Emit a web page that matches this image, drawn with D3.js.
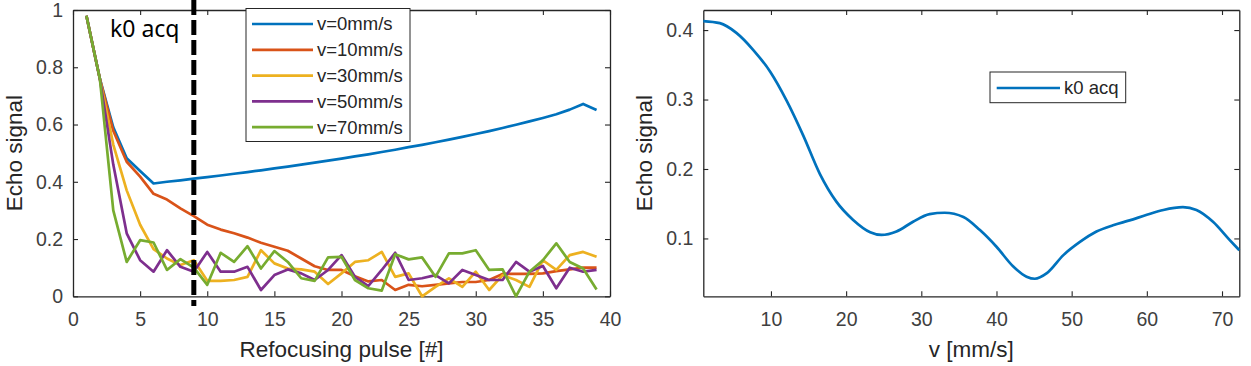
<!DOCTYPE html>
<html>
<head>
<meta charset="utf-8">
<script src="https://cdn.jsdelivr.net/npm/d3@7"></script>
<style>
  body { margin: 0; background: #fff; }
  svg { display: block; }
  .tick text { font-family: 'Liberation Sans', Arial, sans-serif; fill: #404040; }
</style>
</head>
<body>
<div id="chart"></div>
<script>
// left panel: echo signal per refocusing pulse
const pulses = d3.range(1, 40);
const seriesNames = ['v=0mm/s', 'v=10mm/s', 'v=30mm/s', 'v=50mm/s', 'v=70mm/s'];
const seriesColors = ['#0072BD', '#D95319', '#EDB120', '#7E2F8E', '#77AC30'];
const sigV0 = [0.98, 0.76, 0.59, 0.482, 0.438, 0.394, 0.4, 0.405, 0.411, 0.416, 0.422, 0.428, 0.434, 0.44,
  0.447, 0.453, 0.46, 0.467, 0.474, 0.481, 0.489, 0.496, 0.504, 0.512, 0.521, 0.529, 0.538, 0.547, 0.557,
  0.567, 0.577, 0.588, 0.599, 0.611, 0.623, 0.636, 0.652, 0.672, 0.651];
const sigV10 = [0.98, 0.76, 0.578, 0.47, 0.418, 0.358, 0.338, 0.307, 0.28, 0.25, 0.233, 0.22, 0.205, 0.187,
  0.173, 0.159, 0.132, 0.105, 0.092, 0.092, 0.07, 0.052, 0.057, 0.022, 0.04, 0.035, 0.04, 0.045, 0.05,
  0.05, 0.057, 0.078, 0.078, 0.078, 0.08, 0.088, 0.094, 0.1, 0.1];
const sigV30 = [0.98, 0.76, 0.53, 0.37, 0.25, 0.165, 0.132, 0.109, 0.126, 0.054, 0.054, 0.057, 0.068, 0.161,
  0.115, 0.097, 0.094, 0.086, 0.043, 0.08, 0.12, 0.126, 0.155, 0.068, 0.08, 0.0, 0.033, 0.063, 0.033,
  0.086, 0.022, 0.074, 0.057, 0.033, 0.126, 0.092, 0.144, 0.155, 0.138];
const sigV50 = [0.98, 0.76, 0.46, 0.22, 0.126, 0.086, 0.161, 0.103, 0.086, 0.155, 0.086, 0.086, 0.103, 0.022,
  0.074, 0.094, 0.08, 0.057, 0.092, 0.144, 0.068, 0.036, 0.092, 0.152, 0.057, 0.063, 0.074, 0.045, 0.092,
  0.074, 0.057, 0.057, 0.12, 0.086, 0.106, 0.028, 0.1, 0.086, 0.092];
const sigV70 = [0.98, 0.76, 0.3, 0.12, 0.196, 0.188, 0.092, 0.13, 0.1, 0.04, 0.152, 0.12, 0.175, 0.097,
  0.158, 0.12, 0.063, 0.054, 0.136, 0.138, 0.057, 0.028, 0.02, 0.147, 0.129, 0.136, 0.068, 0.15, 0.15,
  0.161, 0.092, 0.094, 0.0, 0.086, 0.126, 0.185, 0.12, 0.097, 0.024];
const seriesValues = [sigV0, sigV10, sigV30, sigV50, sigV70];
const k0Pulse = 9;

// right panel: k0 echo signal vs velocity
const velocity = [1, 3.2, 5.4, 7.6, 9.9, 12.1, 14.3, 16.5, 18.7, 20.9, 23.2, 24.7, 26.7, 28.9, 31.1, 33.1,
  35.6, 37.8, 40.0, 42.2, 44.0, 45.1, 46.7, 48.9, 51.1, 53.3, 55.5, 57.7, 60.0, 62.2, 64.8, 66.6, 68.8, 71.0, 72.3];
const k0Signal = [0.413, 0.41, 0.396, 0.372, 0.34, 0.298, 0.248, 0.193, 0.153, 0.127, 0.109, 0.105, 0.11, 0.124,
  0.135, 0.137, 0.131, 0.112, 0.088, 0.06, 0.045, 0.042, 0.05, 0.076, 0.095, 0.11, 0.119, 0.126, 0.134,
  0.141, 0.145, 0.141, 0.124, 0.098, 0.083];

const leftXTicks = [0, 5, 10, 15, 20, 25, 30, 35, 40];
const leftYTicks = [0, 0.2, 0.4, 0.6, 0.8, 1];
const rightXTicks = [10, 20, 30, 40, 50, 60, 70];
const rightYTicks = [0.1, 0.2, 0.3, 0.4];

const width = 1251;
const height = 366;
const axisColor = '#262626';
const tickFont = 19.5;
const labelFont = 22.5;
const legendFont = 18.5;

const svg = d3
  .select('#chart')
  .append('svg')
  .attr('width', width)
  .attr('height', height)
  .attr('font-family', "'Liberation Sans', Arial, sans-serif");

function drawFrame(x, y, xTicks, yTicks, xLabel) {
  const [x0, x1] = x.range();
  const [y0, y1] = y.range();
  const g = svg.append('g');

  const styleAxis = (sel) => {
    sel.selectAll('.domain').attr('stroke', axisColor).attr('stroke-width', 1.3);
    sel.selectAll('.tick line').attr('stroke', axisColor).attr('stroke-width', 1.1);
    sel.selectAll('.tick text').attr('font-size', tickFont);
  };

  g.append('g')
    .attr('transform', `translate(0,${y0})`)
    .call(d3.axisBottom(x).tickValues(xTicks).tickSizeInner(-5).tickSizeOuter(0).tickPadding(16)
      .tickFormat(d3.format('')))
    .call(styleAxis);
  g.append('g')
    .attr('transform', `translate(0,${y1})`)
    .call(d3.axisTop(x).tickValues(xTicks).tickSizeInner(-5).tickSizeOuter(0).tickFormat(''))
    .call(styleAxis);
  g.append('g')
    .attr('transform', `translate(${x0},0)`)
    .call(d3.axisLeft(y).tickValues(yTicks).tickSizeInner(-5).tickSizeOuter(0).tickPadding(10)
      .tickFormat(d3.format('')))
    .call(styleAxis);
  g.append('g')
    .attr('transform', `translate(${x1},0)`)
    .call(d3.axisRight(y).tickValues(yTicks).tickSizeInner(-5).tickSizeOuter(0).tickFormat(''))
    .call(styleAxis);

  // axis labels
  g.append('text')
    .attr('x', (x0 + x1) / 2)
    .attr('y', 357)
    .attr('text-anchor', 'middle')
    .attr('font-size', labelFont)
    .attr('fill', axisColor)
    .text(xLabel);
  g.append('text')
    .attr('transform', `translate(${x0 - 51},${(y0 + y1) / 2}) rotate(-90)`)
    .attr('text-anchor', 'middle')
    .attr('font-size', labelFont)
    .attr('fill', axisColor)
    .text('Echo signal');
}

// ---- left panel ----
const xL = d3.scaleLinear().domain([0, 40]).range([73, 610]);
const yL = d3.scaleLinear().domain([0, 1]).range([296.3, 10]);

drawFrame(xL, yL, leftXTicks, leftYTicks, 'Refocusing pulse [#]');

const lineL = d3
  .line()
  .x((d) => xL(d[0]))
  .y((d) => yL(d[1]));

svg
  .append('g')
  .selectAll('path')
  .data(seriesValues)
  .join('path')
  .attr('d', (vals) => lineL(pulses.map((p, i) => [p, vals[i]])))
  .attr('fill', 'none')
  .attr('stroke', (d, i) => seriesColors[i])
  .attr('stroke-width', 2.7)
  .attr('stroke-linejoin', 'round');

// k0 acquisition marker
svg
  .append('line')
  .attr('x1', xL(k0Pulse))
  .attr('x2', xL(k0Pulse))
  .attr('y1', yL(1.035))
  .attr('y2', yL(-0.034))
  .attr('stroke', '#000')
  .attr('stroke-width', 5)
  .attr('stroke-dasharray', '15,5');

svg
  .append('text')
  .attr('x', 110)
  .attr('y', 37)
  .attr('font-family', "'Noto Sans', 'Open Sans', sans-serif")
  .attr('font-size', 23)
  .attr('fill', '#000')
  .text('k0 acq');

// legend left
const legL = svg.append('g');
legL
  .append('rect')
  .attr('x', 246)
  .attr('y', 8.5)
  .attr('width', 164)
  .attr('height', 133)
  .attr('fill', '#fff')
  .attr('stroke', axisColor)
  .attr('stroke-width', 1);
const legRows = legL
  .selectAll('g.row')
  .data(seriesNames)
  .join('g')
  .attr('class', 'row')
  .attr('transform', (d, i) => `translate(0,${24 + i * 25.8})`);
legRows
  .append('line')
  .attr('x1', 252)
  .attr('x2', 313)
  .attr('stroke', (d, i) => seriesColors[i])
  .attr('stroke-width', 2.7);
legRows
  .append('text')
  .attr('x', 317)
  .attr('dy', '0.35em')
  .attr('font-size', legendFont)
  .attr('fill', axisColor)
  .text((d) => d);

// ---- right panel ----
const xR = d3.scaleLinear().domain([1, 72.3]).range([703.3, 1239.3]);
const yR = d3.scaleLinear().domain([0.0167, 0.4289]).range([296.3, 10]);

drawFrame(xR, yR, rightXTicks, rightYTicks, 'v [mm/s]');

const lineR = d3
  .line()
  .curve(d3.curveMonotoneX)
  .x((d) => xR(d[0]))
  .y((d) => yR(d[1]));

svg
  .append('path')
  .attr('d', lineR(velocity.map((v, i) => [v, k0Signal[i]])))
  .attr('fill', 'none')
  .attr('stroke', seriesColors[0])
  .attr('stroke-width', 2.7);

// legend right
const legR = svg.append('g');
legR
  .append('rect')
  .attr('x', 990)
  .attr('y', 72)
  .attr('width', 135.7)
  .attr('height', 30.7)
  .attr('fill', '#fff')
  .attr('stroke', axisColor)
  .attr('stroke-width', 1);
legR
  .append('line')
  .attr('x1', 996.7)
  .attr('x2', 1060)
  .attr('y1', 88)
  .attr('y2', 88)
  .attr('stroke', seriesColors[0])
  .attr('stroke-width', 2.7);
legR
  .append('text')
  .attr('x', 1064)
  .attr('y', 88)
  .attr('dy', '0.35em')
  .attr('font-size', legendFont)
  .attr('fill', axisColor)
  .text('k0 acq');
</script>
</body>
</html>
